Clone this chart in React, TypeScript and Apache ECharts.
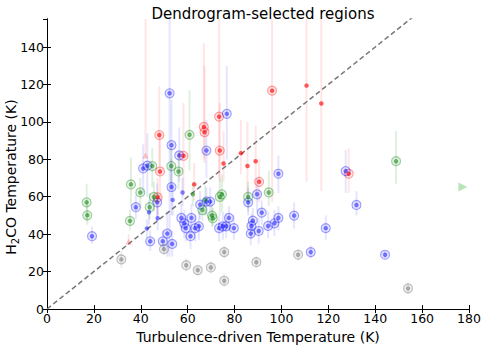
import React, { useEffect, useRef } from "react";
import * as echarts from "echarts";

// [x, y, errLow, errHigh, ringed]
const redPoints: number[][] = [
  [110.7, 119.4, 68, 170, 0],
  [117.0, 109.8, 63, 170, 0],
  [96.0, 116.7, 57, 170, 1],
  [73.4, 102.8, 70, 170, 1],
  [66.9, 97.3, 80, 142, 1],
  [67.2, 94.5, 78, 130, 1],
  [47.9, 93.0, 76, 119, 1],
  [48.2, 73.5, 58, 93, 1],
  [58.2, 81.9, 60, 110, 1],
  [73.7, 84.7, 68, 110, 1],
  [75.3, 77.8, 68, 95, 0],
  [82.7, 83.3, 72, 101, 0],
  [85.5, 76.4, 60, 100, 0],
  [89.0, 79.0, 62, 98, 0],
  [90.5, 68.0, 57, 80, 1],
  [62.8, 66.6, 58, 78, 0],
  [47.2, 59.7, 50, 70, 1],
  [128.7, 72.3, 62, 86, 1],
];

const bluePoints: number[][] = [
  [52.3, 115.3, 28, 170, 1],
  [76.7, 104.3, 80, 130, 1],
  [53.1, 87.6, 64, 112, 1],
  [56.4, 82.1, 68, 97, 1],
  [68.0, 84.7, 70, 101, 1],
  [41.0, 75.1, 62, 88, 1],
  [42.8, 76.6, 60, 94, 1],
  [98.7, 72.3, 62, 82, 1],
  [127.4, 73.7, 62, 85, 1],
  [53.1, 65.2, 50, 80, 1],
  [57.8, 62.3, 55, 70, 0],
  [53.6, 58.3, 50, 67, 0],
  [47.0, 57.0, 47, 67, 1],
  [37.9, 54.4, 48, 61, 1],
  [43.5, 51.7, 45, 58, 0],
  [47.2, 48.5, 42, 55, 0],
  [42.6, 43.0, 38, 48, 0],
  [65.3, 55.8, 48, 63, 1],
  [68.0, 57.4, 50, 65, 1],
  [69.6, 57.4, 50, 65, 1],
  [85.8, 57.0, 50, 65, 1],
  [89.6, 61.3, 52, 70, 1],
  [132.0, 55.6, 50, 63, 1],
  [57.3, 48.7, 42, 56, 1],
  [58.5, 45.8, 38, 53, 1],
  [59.2, 43.2, 36, 50, 1],
  [61.6, 48.7, 42, 56, 1],
  [63.2, 43.2, 36, 50, 1],
  [64.8, 44.2, 37, 52, 1],
  [61.2, 38.9, 32, 46, 1],
  [73.4, 43.2, 36, 50, 1],
  [75.0, 44.2, 37, 52, 1],
  [76.4, 44.2, 38, 51, 1],
  [77.6, 48.7, 42, 55, 1],
  [79.7, 43.2, 37, 50, 1],
  [91.6, 51.5, 45, 58, 1],
  [87.8, 47.2, 40, 54, 1],
  [87.2, 44.4, 38, 51, 1],
  [86.9, 40.3, 34, 47, 1],
  [90.3, 41.7, 35, 49, 1],
  [94.3, 44.4, 38, 52, 1],
  [97.0, 45.8, 39, 53, 1],
  [98.7, 48.7, 42, 55, 1],
  [105.4, 49.9, 43, 57, 1],
  [118.9, 43.2, 37, 50, 1],
  [112.5, 30.4, 27, 34, 1],
  [144.2, 29.0, 27, 31, 1],
  [19.2, 38.9, 35, 44, 1],
  [44.0, 36.2, 31, 42, 1],
  [49.4, 36.2, 31, 42, 1],
  [51.3, 40.3, 28, 52, 1],
  [53.4, 34.8, 28, 42, 1],
];

const greenPoints: number[][] = [
  [16.9, 57.0, 47, 67, 1],
  [17.2, 50.1, 45, 58, 1],
  [35.8, 66.6, 55, 81, 1],
  [35.4, 47.1, 42, 53, 1],
  [39.8, 62.3, 54, 70, 1],
  [43.8, 54.4, 48, 62, 1],
  [44.9, 76.4, 65, 86, 1],
  [45.6, 59.9, 52, 68, 1],
  [53.0, 76.4, 66, 87, 1],
  [56.1, 73.5, 64, 84, 1],
  [60.8, 93.1, 74, 117, 1],
  [62.2, 61.3, 55, 68, 0],
  [66.3, 52.9, 47, 58, 1],
  [67.5, 58.3, 50, 66, 0],
  [70.4, 49.9, 44, 56, 1],
  [70.7, 48.5, 44, 54, 1],
  [73.7, 59.9, 50, 70, 1],
  [74.6, 61.3, 52, 72, 1],
  [85.8, 59.9, 52, 68, 1],
  [94.6, 62.3, 55, 74, 1],
  [148.9, 79.0, 67, 95, 1],
];

const grayPoints: number[][] = [
  [31.7, 26.5, 22, 31, 1],
  [49.9, 32.0, 29, 35, 1],
  [59.4, 23.4, 20, 27, 1],
  [64.3, 20.8, 18, 23, 1],
  [69.9, 22.2, 19, 25, 1],
  [75.6, 30.4, 27, 34, 1],
  [75.6, 15.1, 12, 19, 1],
  [89.3, 25.0, 22, 28, 1],
  [107.1, 29.0, 26, 32, 1],
  [154.0, 11.0, 8, 14, 1],
];

// lower limits (upward triangles) and an off-scale point (right triangle)
const redLimits: number[][] = [
  [42.0, 82.0, 82, 170],
  [34.8, 35.9, 36, 40],
];
const greenOffScale: number[][] = [[177.4, 65.2]];

const diagonal: number[][] = [[0, 0], [160, 160]];

const xTicks = { min: 0, max: 180, interval: 20 };
const yTicks = { min: 0, max: 155, interval: 20 };

const FONT = "DejaVu Sans";

function groupSeries(pts: number[][], rgb: string, dotAlpha: number, errAlpha: number) {
  const errColor = `rgba(${rgb},${errAlpha})`;
  return [
    {
      type: "custom",
      clip: true,
      z: 1,
      encode: { x: 0, y: 1 },
      data: pts,
      renderItem: (_p: any, api: any) => {
        const x = api.value(0);
        const a = api.coord([x, api.value(2)]);
        const b = api.coord([x, api.value(3)]);
        return {
          type: "line",
          shape: { x1: a[0], y1: a[1], x2: b[0], y2: b[1] },
          style: { stroke: errColor, lineWidth: 2 },
        };
      },
    },
    {
      type: "scatter",
      z: 3,
      symbol: "circle",
      symbolSize: 9,
      data: pts.filter((p) => p[4] === 1).map((p) => [p[0], p[1]]),
      itemStyle: {
        color: `rgba(${rgb},0.12)`,
        borderColor: `rgba(${rgb},0.45)`,
        borderWidth: 1.1,
      },
    },
    {
      type: "scatter",
      z: 4,
      symbol: "circle",
      symbolSize: 4.5,
      data: pts.map((p) => [p[0], p[1]]),
      itemStyle: { color: `rgba(${rgb},${dotAlpha})` },
    },
  ];
}

export default function App() {
  const ref = useRef<HTMLDivElement>(null);
  useEffect(() => {
    document.body.style.margin = "0";
    const chart = echarts.init(ref.current!, undefined, { renderer: "svg" });
    const axisCommon = {
      type: "value",
      axisLine: { show: true, lineStyle: { color: "#000", width: 1 } },
      axisTick: { show: true, inside: true, length: 4, lineStyle: { color: "#000" } },
      splitLine: { show: false },
    };
    const option: any = {
      animation: false,
      backgroundColor: "#fff",
      title: {
        text: "Dendrogram-selected regions",
        left: 258,
        top: 1,
        textAlign: "center",
        textStyle: { fontFamily: FONT, fontSize: 15, fontWeight: "normal", color: "#000" },
      },
      grid: { left: 47, right: 16, top: 19, bottom: 37, containLabel: false, outerBoundsMode: "none" },
      graphic: [
        {
          type: "text",
          x: 11,
          y: 177,
          rotation: Math.PI / 2,
          style: {
            text: "{a|H}{s|2}{a|CO Temperature (K)}",
            align: "center",
            verticalAlign: "middle",
            fill: "#000",
            font: `14px '${FONT}'`,
            rich: {
              a: { fontFamily: FONT, fontSize: 14, fill: "#000", color: "#000" },
              s: { fontFamily: FONT, fontSize: 10, fill: "#000", color: "#000", padding: [8, 0, 0, 0] },
            },
          },
        },
      ],
      xAxis: [
        {
          ...axisCommon,
          ...xTicks,
          position: "bottom",
          axisLabel: { fontFamily: FONT, fontSize: 12.5, color: "#000", margin: 3 },
          name: "Turbulence-driven Temperature (K)",
          nameLocation: "middle",
          nameGap: 17,
          nameTextStyle: { fontFamily: FONT, fontSize: 14, color: "#000" },
        },
        {
          ...axisCommon,
          ...xTicks,
          position: "top",
          axisLabel: { show: false },
        },
      ],
      yAxis: [
        {
          ...axisCommon,
          ...yTicks,
          position: "left",
          axisLabel: { fontFamily: FONT, fontSize: 12.5, color: "#000", margin: 3, showMaxLabel: false },
        },
        {
          ...axisCommon,
          ...yTicks,
          position: "right",
          axisLabel: { show: false },
        },
      ],
      series: [
        {
          type: "line",
          data: diagonal,
          symbol: "none",
          z: 2,
          clip: true,
          lineStyle: { color: "#777", width: 1.5, type: [5, 3] },
        },
        ...groupSeries(redPoints, "255,0,0", 0.8, 0.1),
        ...groupSeries(bluePoints, "0,0,255", 0.6, 0.1),
        ...groupSeries(greenPoints, "0,128,0", 0.65, 0.12),
        ...groupSeries(grayPoints, "90,90,90", 0.55, 0.1),
        {
          type: "custom",
          clip: true,
          z: 1,
          encode: { x: 0, y: 1 },
          data: redLimits,
          renderItem: (_p: any, api: any) => {
            const x = api.value(0);
            const a = api.coord([x, api.value(2)]);
            const b = api.coord([x, api.value(3)]);
            return {
              type: "line",
              shape: { x1: a[0], y1: a[1], x2: b[0], y2: b[1] },
              style: { stroke: "rgba(255,0,0,0.1)", lineWidth: 2 },
            };
          },
        },
        {
          type: "scatter",
          z: 4,
          symbol: "triangle",
          symbolSize: 6,
          data: redLimits.map((p) => [p[0], p[1]]),
          itemStyle: { color: "rgba(255,0,0,0.3)" },
        },
        {
          type: "scatter",
          z: 4,
          symbol: "triangle",
          symbolSize: 9,
          symbolRotate: -90,
          data: greenOffScale,
          itemStyle: { color: "rgba(0,160,0,0.35)" },
        },
      ],
    };
    chart.setOption(option);
    return () => chart.dispose();
  }, []);
  return <div ref={ref} style={{ width: 485, height: 346 }} />;
}
